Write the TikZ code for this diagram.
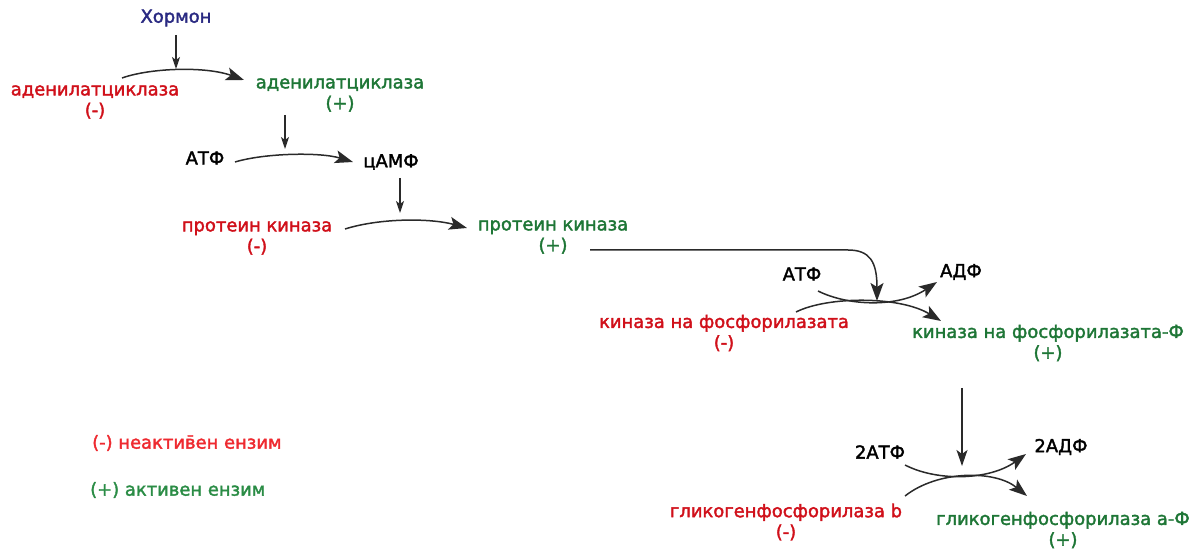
\documentclass[tikz,border=0pt]{standalone}
\usepackage{fontspec}
\setmainfont{DejaVu Sans}[FakeBold=2]
\usetikzlibrary{arrows.meta}
\definecolor{inred}{HTML}{D0101A}
\definecolor{acgreen}{HTML}{1E7636}
\definecolor{lgred}{HTML}{EE2A30}
\definecolor{lggreen}{HTML}{2A8C45}
\definecolor{hblue}{HTML}{2A2A82}
\definecolor{arr}{HTML}{2A2A2A}
\begin{document}
\begin{tikzpicture}[x=1bp,y=-1bp,
  lbl/.style={inner sep=0pt,align=center,font=\fontsize{18}{21}\selectfont},
  inact/.style={lbl,text=inred},
  act/.style={lbl,text=acgreen},
  blk/.style={lbl,text=black},
  rx/.style={draw=arr,line width=1.5bp,-{Stealth[length=18bp,width=13bp,inset=4bp]}},
  dn/.style={draw=arr,line width=1.3bp,-{Stealth[length=12bp,width=8bp,inset=3bp]}}]
\useasboundingbox (0,0) rectangle (1199,552);
% labels
\node[lbl,text=hblue] (horm) at (176,18) {Хормон};
\node[inact] (ac1) at (95,102) {аденилатциклаза\\(-)};
\node[act] (ac2) at (340,95) {аденилатциклаза\\(+)};
\node[blk] (atp1) at (205,158) {АТФ};
\node[blk] (camp) at (391,162) {цАМФ};
\node[inact] (pk1) at (257,238) {протеин киназа\\(-)};
\node[act] (pk2) at (553,237) {протеин киназа\\(+)};
\node[blk] (atp2) at (802,274) {АТФ};
\node[blk] (adp2) at (961,272) {АДФ};
\node[inact] (pkk1) at (724,333) {киназа на фосфорилазата\\(-)};
\node[act] (pkk2) at (1048,343) {киназа на фосфорилазата-Ф\\(+)};
\node[blk] (atp3) at (880,452) {2АТФ};
\node[blk] (adp3) at (1061,447) {2АДФ};
\node[inact] (gp1) at (786,522) {гликогенфосфорилаза b\\(-)};
\node[act] (gp2) at (1063,530) {гликогенфосфорилаза а-Ф\\(+)};
\node[lbl,text=lgred,anchor=west] (leg1) at (92,443) {(-) неактив̄ен ензим};
\node[lbl,text=lggreen,anchor=west] (leg2) at (90,490) {(+) активен ензим};
% connector end points
\coordinate (h1) at (176,35);  \coordinate (h2) at (176,69);
\coordinate (r1s) at (122,78); \coordinate (r1e) at (244,80);
\coordinate (a1) at (285,115); \coordinate (a2) at (285,149);
\coordinate (r2s) at (235,162); \coordinate (r2e) at (353,162);
\coordinate (c1) at (400,178); \coordinate (c2) at (400,213);
\coordinate (r3s) at (345,229); \coordinate (r3e) at (467,228);
\coordinate (k1) at (590,250); \coordinate (k2) at (848,250); \coordinate (k3) at (877,301);
\coordinate (x1s) at (818,291); \coordinate (x1e) at (937,282);
\coordinate (x2s) at (796,312); \coordinate (x2e) at (941,321);
\coordinate (d1) at (962,388); \coordinate (d2) at (962,466);
\coordinate (y1s) at (905,465); \coordinate (y1e) at (1026,454);
\coordinate (y2s) at (905,496); \coordinate (y2e) at (1027,496);
% connectors
\draw[dn] (h1) -- (h2);
\draw[rx] (r1s) .. controls (150,68) and (205,66) .. (r1e);
\draw[dn] (a1) -- (a2);
\draw[rx] (r2s) .. controls (265,153) and (320,152) .. (r2e);
\draw[dn] (c1) -- (c2);
\draw[rx] (r3s) .. controls (380,218) and (430,218) .. (r3e);
\draw[rx] (k1) -- (k2) .. controls (870,250) and (877,262) .. (k3);
\draw[rx] (x1s) .. controls (848,306) and (898,308) .. (x1e);
\draw[rx] (x2s) .. controls (828,296) and (900,296) .. (x2e);
\draw[dn,-{Stealth[length=16bp,width=11bp,inset=4bp]}] (d1) -- (d2);
\draw[rx] (y1s) .. controls (938,482) and (990,480) .. (y1e);
\draw[rx] (y2s) .. controls (938,470) and (995,470) .. (y2e);
\end{tikzpicture}
\end{document}
